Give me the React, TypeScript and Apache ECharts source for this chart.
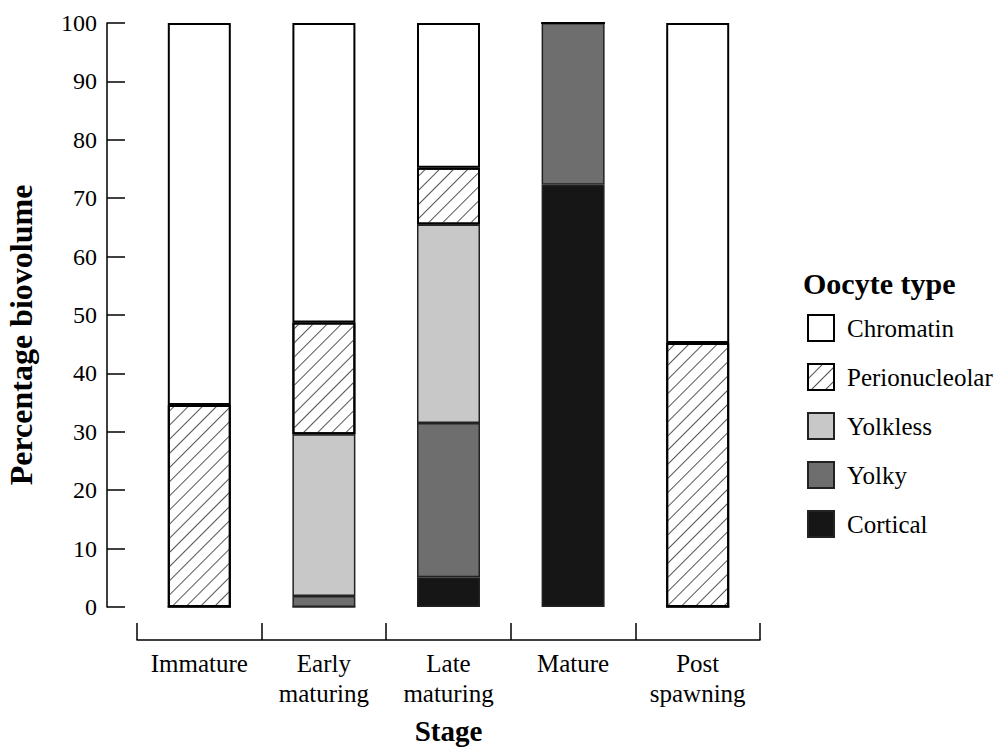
import React, { useEffect, useRef } from "react";
import * as echarts from "echarts";

const stages = ["Immature", "Early\nmaturing", "Late\nmaturing", "Mature", "Post\nspawning"];
const yTicks = [0, 10, 20, 30, 40, 50, 60, 70, 80, 90, 100];
const legendOrder = ["Chromatin", "Perionucleolar", "Yolkless", "Yolky", "Cortical"];

// stacked segment sizes (percent), bottom to top
const cortical = [0, 0, 5.1, 72.3, 0];
const yolky = [0, 1.9, 26.4, 27.7, 0];
const yolkless = [0, 27.7, 34.0, 0, 0];
const perionucleolar = [34.6, 19.1, 9.7, 0, 45.2];
const chromatin = [65.4, 51.3, 24.8, 0, 54.8];

const FONT = "Liberation Serif";

export default function App() {
  const ref = useRef<HTMLDivElement>(null);
  useEffect(() => {
    if (!ref.current) return;
    const chart = echarts.init(ref.current, null, { renderer: "svg" });
    const mk = (name: string, data: number[], color: string, border: string, bw: number, decal?: any) => ({
      name,
      type: "bar",
      stack: "total",
      barWidth: 63,
      data,
      itemStyle: { color, borderColor: border, borderWidth: bw, ...(decal ? { decal } : {}) },
      emphasis: { disabled: true },
    });
    const hatch = {
      symbol: "rect",
      symbolSize: 1,
      dashArrayX: [1, 0],
      dashArrayY: [1, 9],
      rotation: -Math.PI / 4,
      color: "#555",
    };
    chart.setOption({
      animation: false,
      textStyle: { fontFamily: FONT },
      title: {
        text: "Oocyte type",
        left: 798,
        top: 263,
        textStyle: { fontFamily: FONT, fontWeight: "bold", fontSize: 30, color: "#000" },
      },
      legend: {
        data: legendOrder,
        orient: "vertical",
        left: 802,
        top: 309,
        itemWidth: 26,
        itemHeight: 26,
        itemGap: 21,
        icon: "rect",
        textStyle: { fontFamily: FONT, fontSize: 25, color: "#000", padding: [0, 0, 0, 8] },
      },
      grid: { left: 137, right: 238, top: 23, bottom: 142, containLabel: false, outerBoundsMode: "none" },
      xAxis: {
        type: "category",
        data: stages,
        offset: 33,
        name: "Stage",
        nameLocation: "middle",
        nameGap: 76,
        nameTextStyle: { fontFamily: FONT, fontWeight: "bold", fontSize: 29, color: "#000" },
        axisLine: { show: true, onZero: false, lineStyle: { color: "#000", width: 1.5 } },
        axisTick: { show: true, inside: true, length: 17, interval: 0, lineStyle: { color: "#000", width: 1.5 } },
        axisLabel: { fontFamily: FONT, fontSize: 25, color: "#000", margin: 8, lineHeight: 30, interval: 0 },
        splitLine: { show: false },
      },
      yAxis: {
        type: "value",
        min: 0,
        max: 100,
        interval: 10,
        offset: 30,
        name: "Percentage biovolume",
        nameLocation: "middle",
        nameGap: 70,
        nameTextStyle: {
          fontFamily: FONT,
          fontWeight: "bold",
          fontSize: 32,
          color: "#000",
          padding: [0, 40, 0, 0],
        },
        axisLine: { show: true, onZero: false, lineStyle: { color: "#000", width: 1.5 } },
        axisTick: { show: true, inside: true, length: 18, lineStyle: { color: "#000", width: 1.5 } },
        axisLabel: {
          fontFamily: FONT,
          fontSize: 24,
          color: "#000",
          margin: 10,
          formatter: (v: number) => (yTicks.includes(v) ? String(v) : ""),
        },
        splitLine: { show: false },
      },
      series: [
        mk("Cortical", cortical, "#161616", "#222", 1.5),
        mk("Yolky", yolky, "#6e6e6e", "#222", 1.5),
        mk("Yolkless", yolkless, "#c8c8c8", "#222", 1.5),
        mk("Perionucleolar", perionucleolar, "#ffffff", "#000", 2, hatch),
        mk("Chromatin", chromatin, "#ffffff", "#000", 2),
      ],
    });
    return () => chart.dispose();
  }, []);
  return <div ref={ref} style={{ width: 998, height: 749, position: "absolute", left: 0, top: 0 }} />;
}
